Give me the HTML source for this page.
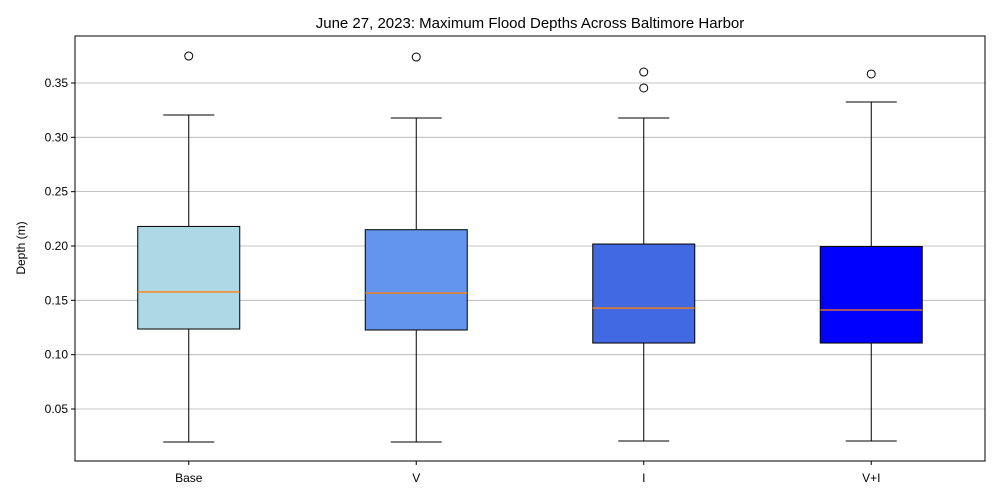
<!DOCTYPE html>
<html><head><meta charset="utf-8"><style>
body{margin:0;background:#fff}
svg{display:block;font-family:"Liberation Sans","DejaVu Sans",sans-serif}
</style></head><body>
<svg id="chart" width="1000" height="500">
<text x="530" y="28" text-anchor="middle" font-size="15">June 27, 2023: Maximum Flood Depths Across Baltimore Harbor</text>
<text transform="translate(25,248) rotate(-90)" text-anchor="middle" font-size="12">Depth (m)</text>
<g id="grid"></g><g id="boxes"></g><g id="axes"></g>
<rect x="75" y="36" width="910" height="425" fill="none" stroke="#000" stroke-width="1"/>
</svg>
<script>
const categories=["Base","V","I","V+I"];
const colors=["#add8e6","#6495ed","#4169e1","#0000ff"];
const q1=[0.1236,0.1227,0.1107,0.1107];
const q3=[0.218,0.2150,0.2018,0.1995];
const medians=[0.1577,0.1567,0.1429,0.1411];
const whiskLo=[0.0196,0.0196,0.0205,0.0205];
const whiskHi=[0.3205,0.3178,0.3178,0.3325];
const outliers=[[0.3748],[0.3739],[0.3601,0.3454],[0.3583]];
const yTicks=[0.05,0.10,0.15,0.20,0.25,0.30,0.35];
const NS="http://www.w3.org/2000/svg";
const y=v=>409-(v-0.05)*1086.7;
const x=i=>75+910*(i+0.5)/categories.length;
function mk(tag,attrs,parent){const e=document.createElementNS(NS,tag);for(const k in attrs)e.setAttribute(k,attrs[k]);parent.appendChild(e);return e;}
const grid=document.getElementById('grid'),boxes=document.getElementById('boxes'),axes=document.getElementById('axes');
yTicks.forEach(t=>{
 const g=mk('line',{x1:75,x2:985,y1:y(t),y2:y(t),stroke:'#b0b0b0','stroke-width':0.8},grid);
 
 
 const tk=mk('line',{x1:71,x2:75,y1:y(t),y2:y(t),stroke:'#000'},axes);
 
 
 const tx=mk('text',{x:68,y:y(t)+4,'text-anchor':'end','font-size':12},axes);
 tx.textContent=t.toFixed(2);
 
 
});
categories.forEach((c,i)=>{
 const cx=x(i),w=102,cw=51;
 const g=mk('g',{},boxes);
 
 
 mk('line',{x1:cx,x2:cx,y1:y(q1[i]),y2:y(whiskLo[i]),stroke:'#000'},g);
 mk('line',{x1:cx,x2:cx,y1:y(q3[i]),y2:y(whiskHi[i]),stroke:'#000'},g);
 mk('line',{x1:cx-cw/2,x2:cx+cw/2,y1:y(whiskLo[i]),y2:y(whiskLo[i]),stroke:'#000'},g);
 mk('line',{x1:cx-cw/2,x2:cx+cw/2,y1:y(whiskHi[i]),y2:y(whiskHi[i]),stroke:'#000'},g);
 mk('rect',{x:cx-w/2,y:y(q3[i]),width:w,height:y(q1[i])-y(q3[i]),fill:colors[i],stroke:'#000'},g);
 mk('line',{x1:cx-w/2,x2:cx+w/2,y1:y(medians[i]),y2:y(medians[i]),stroke:'#ff7f0e','stroke-width':1.3},g);
 outliers[i].forEach(o=>{
  const p=mk('circle',{cx:cx,cy:y(o),r:4,fill:'none',stroke:'#000'},g);
  
  
 });
 const tk=mk('line',{x1:cx,x2:cx,y1:461,y2:465,stroke:'#000'},axes);
 
 
 const tx=mk('text',{x:cx,y:482,'text-anchor':'middle','font-size':12},axes);
 tx.textContent=c;
 
 
});
</script>
</body></html>
